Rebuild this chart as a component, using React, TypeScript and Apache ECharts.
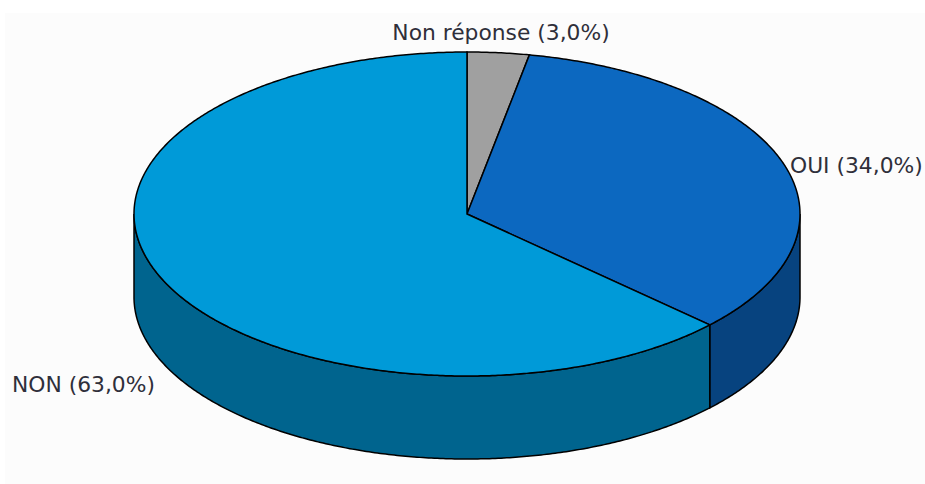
import React, { useEffect, useRef } from "react";
import * as echarts from "echarts";

const categories = ["Non réponse", "OUI", "NON"];
const shares = [3.0, 34.0, 63.0];

const topColors = ["#a0a0a0", "#0c68c0", "#009ad8"];
const wallColors = ["#6c6c6c", "#07437f", "#00648e"];

const CX = 467;
const CY = 214;
const RX = 333;
const RY = 162;
const DEPTH = 83;
const LINE = "#000000";
const FONT = '"DejaVu Sans", sans-serif';

const total = shares.reduce((a, b) => a + b, 0);
const bounds = (index: number) => {
  const before = shares.slice(0, index).reduce((a, b) => a + b, 0);
  return [(before / total) * 360, ((before + shares[index]) / total) * 360];
};
const arc = (from: number, to: number, dy = 0) => {
  const n = Math.max(2, Math.ceil(Math.abs(to - from) * 2));
  const out: number[][] = [];
  for (let k = 0; k <= n; k++) {
    const r = ((from + ((to - from) * k) / n) * Math.PI) / 180;
    out.push([CX + RX * Math.sin(r), CY - RY * Math.cos(r) + dy]);
  }
  return out;
};
const labelText = (i: number) => `${categories[i]} (${shares[i].toFixed(1).replace(".", ",")}%)`;

const seriesData = categories.map((name, i) => ({ name, value: shares[i] }));

const renderTop = (params: any) => {
  const i = params.dataIndex;
  const [a1, a2] = bounds(i);
  return {
    type: "polygon",
    shape: { points: [[CX, CY], ...arc(a1, a2)] },
    style: { fill: topColors[i], stroke: LINE, lineWidth: 1.5 },
  };
};

const renderWall = (params: any) => {
  const i = params.dataIndex;
  const [s, e] = bounds(i);
  const a1 = Math.max(s, 90);
  const a2 = Math.min(e, 270);
  if (a2 <= a1) return { type: "group", children: [] };
  return {
    type: "polygon",
    shape: { points: [...arc(a1, a2), ...arc(a2, a1, DEPTH)] },
    style: { fill: wallColors[i], stroke: LINE, lineWidth: 1.5 },
  };
};

export default function App() {
  const ref = useRef<HTMLDivElement>(null);
  useEffect(() => {
    const chart = echarts.init(ref.current!, null, { renderer: "svg" });
    chart.setOption({
      animation: false,
      backgroundColor: "#ffffff",
      graphic: [
        { type: "rect", z: -1, silent: true, shape: { x: 5, y: 13, width: 920, height: 471 }, style: { fill: "#fcfcfc" } },
        { type: "text", z: 10, x: 501, y: 32, style: { text: labelText(0), font: `21.8px ${FONT}`, fill: "#2f2f3a", textAlign: "center", textVerticalAlign: "middle" } },
        { type: "text", z: 10, x: 790, y: 165, style: { text: labelText(1), font: `21.8px ${FONT}`, fill: "#2f2f3a", textAlign: "left", textVerticalAlign: "middle" } },
        { type: "text", z: 10, x: 12, y: 384, style: { text: labelText(2), font: `21.8px ${FONT}`, fill: "#2f2f3a", textAlign: "left", textVerticalAlign: "middle" } },
      ],
      series: [
        { type: "custom", coordinateSystem: "none", z: 1, silent: true, renderItem: renderWall, data: seriesData },
        { type: "custom", coordinateSystem: "none", z: 2, silent: true, renderItem: renderTop, data: seriesData },
      ],
    });
    return () => chart.dispose();
  }, []);
  return <div ref={ref} style={{ position: "fixed", left: 0, top: 0, width: 925, height: 484 }} />;
}
